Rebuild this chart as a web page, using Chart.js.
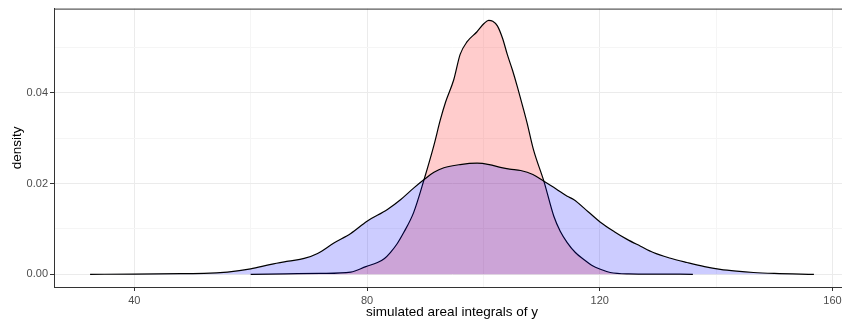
<!DOCTYPE html>
<html>
<head>
<meta charset="utf-8">
<script src="https://cdn.jsdelivr.net/npm/chart.js@4"></script>
<style>
  html, body { margin: 0; padding: 0; overflow: hidden; background: #fff; }
</style>
</head>
<body>
<canvas id="densityChart" width="856" height="322"></canvas>
<script>
// density curves (x = simulated value, y = density)
const wideX = [32.4, 40, 48, 52, 56, 60, 63.5, 66.5, 69.2, 71.5, 74.3, 77.2, 80, 83.5, 85.8, 88, 89.8, 91.5, 93.2, 96, 98.9, 101, 102.9, 104.5, 106.4, 108.5, 110.4, 112.5, 114.4, 115.5, 118, 120.1, 122.5, 124.7, 127, 129.2, 132, 135, 138, 140.7, 143.5, 146.4, 150, 156.8];
const wideY = [0, 0.00005, 0.00015, 0.0002, 0.0005, 0.0012, 0.0022, 0.0029, 0.0035, 0.0046, 0.0069, 0.009, 0.0117, 0.0143, 0.0165, 0.019, 0.0209, 0.0225, 0.0235, 0.0242, 0.0245, 0.0242, 0.0236, 0.0232, 0.0229, 0.022, 0.0205, 0.0188, 0.0172, 0.0165, 0.0138, 0.0115, 0.0094, 0.0077, 0.0062, 0.0048, 0.0036, 0.0026, 0.0017, 0.0011, 0.0007, 0.0004, 0.0002, 0];

const narrowX = [60, 66, 72, 77.2, 79.8, 81.8, 83, 84, 85.2, 86.3, 88, 89.8, 91.5, 92.6, 93.5, 94.9, 96, 97.2, 98.9, 100.1, 100.9, 101.6, 102.4, 103.3, 104.1, 105, 105.8, 106.9, 107.5, 108.6, 110.4, 112.1, 113.2, 114.4, 115.8, 117.2, 118.6, 120.1, 121.8, 125, 130, 136];
const narrowY = [0, 0.0001, 0.0002, 0.0005, 0.0017, 0.0026, 0.0035, 0.0048, 0.0068, 0.0092, 0.0136, 0.0209, 0.0285, 0.0341, 0.038, 0.0429, 0.0485, 0.0513, 0.0535, 0.0553, 0.056, 0.0558, 0.0548, 0.052, 0.0485, 0.045, 0.0415, 0.0363, 0.0334, 0.0275, 0.0205, 0.0128, 0.0095, 0.007, 0.0048, 0.0033, 0.002, 0.0011, 0.0004, 0.0001, 0.00005, 0];

const xLabelTicks = [40, 80, 120, 160];
const yLabelTicks = [0, 0.02, 0.04];

const toPoints = (xs, ys) => xs.map((x, i) => ({ x: x, y: ys[i] }));

const isMajor = (v, list) => list.some(t => Math.abs(t - v) < 1e-9);

// panel border on top (right edge falls outside the window)
const panelBorder = {
    id: 'panelBorder',
    afterDraw(chart) {
        const a = chart.chartArea;
        const c = chart.ctx;
        c.save();
        c.strokeStyle = '#333333';
        c.lineWidth = 1;
        c.strokeRect(a.left + 0.5, a.top + 0.5, a.right - a.left, a.bottom - a.top);
        c.restore();
    }
};

Chart.defaults.font.family = '"Liberation Sans", Arial, sans-serif';

var ctx = document.getElementById('densityChart').getContext('2d');
var myChart = new Chart(ctx, {
    type: 'line',
    data: {
        datasets: [{
            label: 'wide',
            data: toPoints(wideX, wideY),
            backgroundColor: 'rgba(0, 0, 255, 0.2)',
            borderColor: '#000000',
            borderWidth: 1.2,
            fill: 'origin',
            pointRadius: 0,
            cubicInterpolationMode: 'monotone',
            order: 0
        }, {
            label: 'narrow',
            data: toPoints(narrowX, narrowY),
            backgroundColor: 'rgba(255, 0, 0, 0.2)',
            borderColor: '#000000',
            borderWidth: 1.2,
            fill: 'origin',
            pointRadius: 0,
            cubicInterpolationMode: 'monotone',
            order: 1
        }]
    },
    options: {
        responsive: false,
        animation: false,
        layout: { padding: { top: 7, right: 6, left: 0, bottom: 0 } },
        plugins: {
            legend: { display: false },
            tooltip: { enabled: false }
        },
        scales: {
            x: {
                type: 'linear',
                min: 26.2,
                max: 163.0,
                afterFit: scale => { scale.height = 35; },
                border: { display: true, color: '#333333', width: 1 },
                grid: {
                    color: c => isMajor(c.tick.value, xLabelTicks) ? '#EBEBEB' : '#F5F5F5',
                    tickColor: c => isMajor(c.tick.value, xLabelTicks) ? '#333333' : 'rgba(0,0,0,0)',
                    tickLength: 4,
                    lineWidth: 1
                },
                ticks: {
                    stepSize: 20,
                    includeBounds: false,
                    maxRotation: 0,
                    autoSkip: false,
                    padding: 3,
                    color: '#4D4D4D',
                    font: { size: 11 },
                    callback: v => isMajor(v, xLabelTicks) ? String(v) : ''
                },
                title: {
                    display: true,
                    text: 'simulated areal integrals of y',
                    color: '#000000',
                    font: { size: 13.5 },
                    padding: { top: 0, bottom: 2 }
                }
            },
            y: {
                type: 'linear',
                min: -0.0028,
                max: 0.0586,
                afterFit: scale => { scale.width = 54; },
                border: { display: true, color: '#333333', width: 1 },
                grid: {
                    color: c => isMajor(c.tick.value, yLabelTicks) ? '#EBEBEB' : '#F5F5F5',
                    tickColor: c => isMajor(c.tick.value, yLabelTicks) ? '#333333' : 'rgba(0,0,0,0)',
                    tickLength: 4,
                    lineWidth: 1
                },
                ticks: {
                    stepSize: 0.01,
                    includeBounds: false,
                    autoSkip: false,
                    padding: 2,
                    color: '#4D4D4D',
                    font: { size: 11 },
                    callback: v => isMajor(v, yLabelTicks) ? v.toFixed(2) : ''
                },
                title: {
                    display: true,
                    text: 'density',
                    color: '#000000',
                    font: { size: 13.5 },
                    padding: { top: 9.5, bottom: 0 }
                }
            }
        }
    },
    plugins: [panelBorder]
});
</script>
</body>
</html>
